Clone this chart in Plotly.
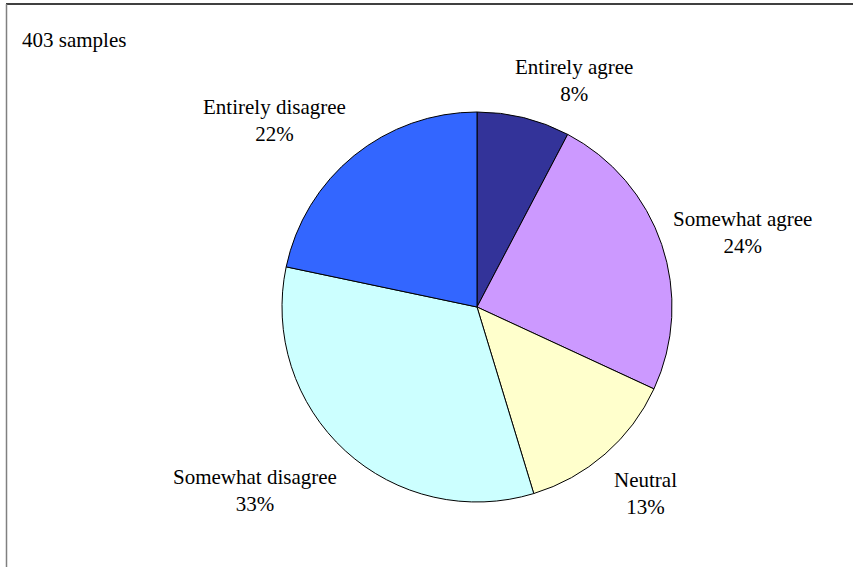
import math
import plotly.graph_objects as go

labels = ["Entirely agree", "Somewhat agree", "Neutral", "Somewhat disagree", "Entirely disagree"]
values = [7.7, 24.2, 13.4, 33.0, 21.7]
colors = ["#333399", "#CC99FF", "#FFFFCC", "#CCFFFF", "#3366FF"]
note = "403 samples"

W, H = 853, 567
cx, cy, R = 477, 307, 195
FS = 21
FONT = dict(family="Liberation Serif", size=FS, color="black")

fig = go.Figure(go.Pie(
    labels=labels, values=values, sort=False, direction="clockwise", rotation=0,
    marker=dict(colors=colors, line=dict(color="black", width=1)),
    textinfo="none", hoverinfo="label+percent",
    domain=dict(x=[(cx - R) / W, (cx + R) / W], y=[(H - cy - R) / H, (H - cy + R) / H]),
))

annotations = []
total = sum(values)
cum = 0
half_h = 1.3 * FS  # half height of a two-line label
for lab, v in zip(labels, values):
    mid = (cum + v / 2) / total * 2 * math.pi
    cum += v
    s, c = math.sin(mid), math.cos(mid)
    gap_y = 10 if c >= 0 else 16
    px = cx + (R + 10) * s
    py = cy - (R + gap_y) * c
    f = max(-1.0, min(1.0, s / 0.3))
    xshift = 0
    if f >= 1:
        xa = "left"
    elif f <= -1:
        xa = "right"
    else:
        xa = "center"
        xshift = f * 0.205 * FS * len(lab)
    yshift = 0
    if c > 0.5:
        ya = "bottom"
    elif c < -0.5:
        ya = "top"
    else:
        ya = "middle"
        yshift = c * half_h
    annotations.append(dict(
        x=px / W, y=(H - py) / H, xref="paper", yref="paper",
        text=f"{lab}<br>{round(v / total * 100)}%", showarrow=False,
        xanchor=xa, yanchor=ya, xshift=xshift, yshift=yshift, align="center", font=FONT,
    ))

annotations.append(dict(x=20 / W, y=(H - 40) / H, xref="paper", yref="paper", text=note,
                        showarrow=False, xanchor="left", yanchor="middle", font=FONT))

fig.update_layout(
    width=W, height=H, margin=dict(l=0, r=0, t=0, b=0),
    paper_bgcolor="white", plot_bgcolor="white", showlegend=False,
    font=FONT,
    annotations=annotations,
    shapes=[
        dict(type="line", xref="paper", yref="paper", x0=6 / W, x1=1, y0=(H - 4) / H, y1=(H - 4) / H,
             line=dict(color="black", width=1.5)),
        dict(type="line", xref="paper", yref="paper", x0=6.5 / W, x1=6.5 / W, y0=0, y1=(H - 4) / H,
             line=dict(color="#808080", width=1.5)),
    ],
)

fig.write_html("out.html", config={"displayModeBar": False},
               post_script="document.body.style.margin='0';document.body.style.overflow='hidden';")
